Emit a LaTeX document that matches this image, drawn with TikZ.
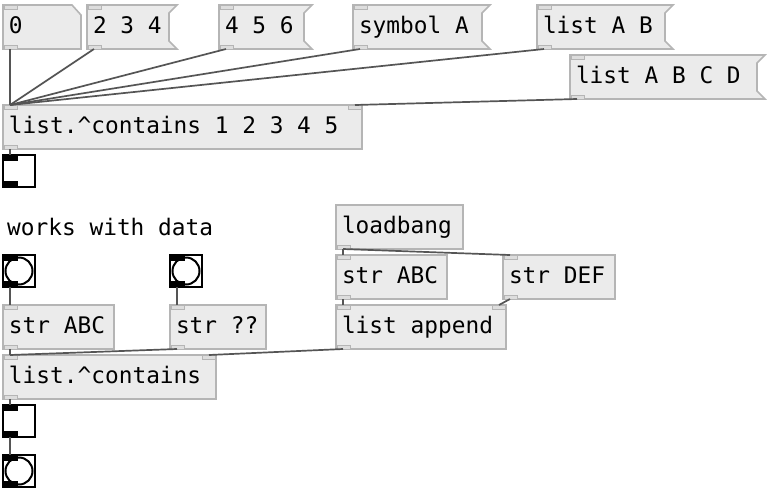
\documentclass[tikz,border=0pt]{standalone}
\usepackage{fontspec}
\newfontfamily\pdmono{DejaVu Sans Mono}
\usetikzlibrary{backgrounds}
\definecolor{boxfill}{HTML}{EBEBEB}
\definecolor{boxline}{HTML}{B5B5B5}
\definecolor{wirecol}{HTML}{555555}
\definecolor{iofill}{HTML}{DDDDDD}
\newcommand\pdfont{\pdmono\fontsize{22.8}{27}\selectfont}
\tikzset{
  pdbase/.style={anchor=north west, inner xsep=6pt, inner ysep=0pt, outer sep=0pt,
    minimum height=44pt, text height=17pt, text depth=5pt, font=\pdfont,
    execute at begin node={\spaceskip=0pt\xspaceskip=0pt\relax}},
  pdobj/.style={pdbase, fill=boxfill, draw=boxline, line width=1.6pt},
  pdshape/.style={fill=boxfill, draw=boxline, line width=1.6pt, line join=miter},
  iolet/.style={fill=iofill, draw=boxline, line width=1pt},
  wire/.style={draw=wirecol, line width=1.7pt},
  guibox/.style={anchor=north west, draw=black, line width=2pt, minimum width=32pt,
    minimum height=32pt, inner sep=0pt, outer sep=0pt, fill=white},
}
\newcommand\pdin[1]{\draw[iolet] ([xshift=1pt]#1.north west) rectangle ([xshift=14pt,yshift=-4pt]#1.north west);}
\newcommand\pdout[1]{\draw[iolet] ([xshift=1pt]#1.south west) rectangle ([xshift=14pt,yshift=4pt]#1.south west);}
\newcommand\pdinR[1]{\draw[iolet] ([xshift=-14pt]#1.north east) rectangle ([xshift=-1pt,yshift=-4pt]#1.north east);}
\newcommand\msgshape[1]{\draw[pdshape] (#1.north west) -- (#1.north east) -- ([xshift=-8pt,yshift=-8pt]#1.north east) -- ([xshift=-8pt,yshift=8pt]#1.south east) -- (#1.south east) -- (#1.south west) -- cycle;}
\newcommand\guiio[1]{\fill[black] (#1.north west) rectangle ([xshift=15pt,yshift=-6pt]#1.north west);
  \fill[black] (#1.south west) rectangle ([xshift=15pt,yshift=6pt]#1.south west);}
\newcommand\pdwire[2]{\draw[wire] ([xshift=7pt]#1.south west) -- ([xshift=7pt]#2.north west);}
\begin{document}
\begin{tikzpicture}[x=1pt,y=-1pt]
\begin{scope}[on background layer]
\fill[white] (0,0) rectangle (768,496);
\end{scope}
\useasboundingbox (0,0) rectangle (768,496);

% top row
\node[pdbase, text width=66pt] (n0) at (3,5) {0};
\node[pdbase, text width=78pt] (m234) at (87,5) {2 3 4};
\node[pdbase, text width=81pt] (m456) at (219,5) {4 5 6};
\node[pdbase, text width=125pt] (msym) at (353,5) {symbol A};
\node[pdbase, text width=124pt] (mab) at (537,5) {list A B};
\node[pdbase, text width=183pt] (mabcd) at (570,55) {list A B C D};
\begin{scope}[on background layer]
\draw[pdshape] (n0.north west) -- ([xshift=-9pt]n0.north east) -- ([yshift=-10pt]n0.north east) -- (n0.south east) -- (n0.south west) -- cycle;
\msgshape{m234}
\msgshape{m456}
\msgshape{msym}
\msgshape{mab}
\msgshape{mabcd}
\end{scope}
\foreach \m in {n0,m234,m456,msym,mab,mabcd}{\pdin{\m}\pdout{\m}}

\node[pdobj, text width=347pt] (oc1) at (3,105) {list.\textasciicircum contains 1 2 3 4 5};
\pdin{oc1}\pdinR{oc1}\pdout{oc1}

\node[guibox] (t1) at (3,155) {};
\guiio{t1}

\node[anchor=base west, inner sep=0pt, font=\pdfont] (cmt) at (7,235) {works with data};

\node[guibox] (b1) at (3,255) {};
\draw[line width=2pt] (b1.center) circle (13.5pt);
\guiio{b1}
\node[guibox] (b2) at (170,255) {};
\draw[line width=2pt] (b2.center) circle (13.5pt);
\guiio{b2}

\node[pdobj, text width=99pt] (sabc) at (3,305) {str ABC};
\pdin{sabc}\pdout{sabc}
\node[pdobj, text width=84pt] (sq) at (170,305) {str ??};
\pdin{sq}\pdout{sq}

\node[pdobj, text width=201pt] (oc2) at (3,355) {list.\textasciicircum contains};
\pdin{oc2}\pdinR{oc2}\pdout{oc2}

\node[guibox] (t2) at (3,405) {};
\guiio{t2}
\node[guibox] (b3) at (3,455) {};
\draw[line width=2pt] (b3.center) circle (13.5pt);
\guiio{b3}

\node[pdobj, text width=115pt] (lb) at (336,205) {loadbang};
\pdout{lb}
\node[pdobj, text width=99pt] (sabc2) at (336,255) {str ABC};
\pdin{sabc2}\pdout{sabc2}
\node[pdobj, text width=100pt] (sdef) at (503,255) {str DEF};
\pdin{sdef}\pdout{sdef}
\node[pdobj, text width=158pt] (lapp) at (336,305) {list append};
\pdin{lapp}\pdinR{lapp}\pdout{lapp}

% wires
\pdwire{n0}{oc1}
\pdwire{m234}{oc1}
\pdwire{m456}{oc1}
\pdwire{msym}{oc1}
\pdwire{mab}{oc1}
\draw[wire] ([xshift=7pt]mabcd.south west) -- ([xshift=-7pt]oc1.north east);
\pdwire{oc1}{t1}
\pdwire{b1}{sabc}
\pdwire{b2}{sq}
\pdwire{sabc}{oc2}
\pdwire{sq}{oc2}
\draw[wire] ([xshift=7pt]lapp.south west) -- ([xshift=-7pt]oc2.north east);
\pdwire{oc2}{t2}
\pdwire{t2}{b3}
\pdwire{lb}{sabc2}
\pdwire{lb}{sdef}
\pdwire{sabc2}{lapp}
\draw[wire] ([xshift=7pt]sdef.south west) -- ([xshift=-7pt]lapp.north east);
\end{tikzpicture}
\end{document}
